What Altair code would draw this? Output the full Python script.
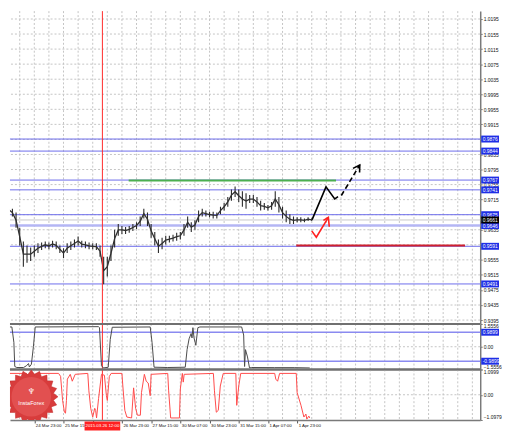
import altair as alt
import numpy as np
import pandas as pd

# ---------------- data ----------------
# x = hourly bar index counted from 24 Mar 07:00 (one entry every 2 bars)
bar_i = list(range(-2, 170, 2))
price_hi = [0.9691, 0.9694, 0.9696, 0.9691, 0.9681, 0.9640, 0.9604, 0.9593, 0.9588, 0.9593,
            0.9599, 0.9601, 0.9604, 0.9601, 0.9606, 0.9604, 0.9593, 0.9586, 0.9599, 0.9604,
            0.9609, 0.9617, 0.9606, 0.9604, 0.9601, 0.9599, 0.9599, 0.9593, 0.9563, 0.9563,
            0.9593, 0.9635, 0.9650, 0.9645, 0.9642, 0.9645, 0.9650, 0.9655, 0.9670, 0.9691,
            0.9681, 0.9650, 0.9629, 0.9609, 0.9614, 0.9619, 0.9619, 0.9622, 0.9627, 0.9629,
            0.9650, 0.9670, 0.9655, 0.9660, 0.9686, 0.9691, 0.9686, 0.9683, 0.9683, 0.9681,
            0.9696, 0.9706, 0.9722, 0.9742, 0.9750, 0.9742, 0.9737, 0.9732, 0.9727, 0.9727,
            0.9722, 0.9712, 0.9706, 0.9701, 0.9709, 0.9737, 0.9722, 0.9696, 0.9686, 0.9676,
            0.9670, 0.9668, 0.9668, 0.9665, 0.9668, 0.9665]
price_lo = [0.9676, 0.9678, 0.9681, 0.9670, 0.9640, 0.9593, 0.9537, 0.9547, 0.9552, 0.9563,
            0.9573, 0.9581, 0.9586, 0.9583, 0.9588, 0.9583, 0.9573, 0.9560, 0.9573, 0.9581,
            0.9588, 0.9593, 0.9588, 0.9586, 0.9583, 0.9583, 0.9581, 0.9563, 0.9490, 0.9511,
            0.9552, 0.9588, 0.9619, 0.9624, 0.9624, 0.9627, 0.9632, 0.9637, 0.9645, 0.9665,
            0.9645, 0.9614, 0.9593, 0.9573, 0.9583, 0.9596, 0.9601, 0.9604, 0.9606, 0.9609,
            0.9619, 0.9640, 0.9629, 0.9635, 0.9655, 0.9670, 0.9670, 0.9668, 0.9665, 0.9665,
            0.9676, 0.9686, 0.9696, 0.9712, 0.9722, 0.9709, 0.9696, 0.9691, 0.9706, 0.9706,
            0.9696, 0.9686, 0.9688, 0.9686, 0.9688, 0.9696, 0.9681, 0.9665, 0.9655, 0.9650,
            0.9650, 0.9655, 0.9655, 0.9655, 0.9658, 0.9658]

tick_vals = [0, 16, 32, 48, 64, 80, 96, 112, 128, 144, 160]
tick_text = ["24 Mar 07:00", "24 Mar 23:00", "25 Mar 15:00", "", "26 Mar 23:00",
             "27 Mar 15:00", "30 Mar 07:00", "30 Mar 23:00", "31 Mar 15:00",
             "1 Apr 07:00", "1 Apr 23:00"]
grid_x = list(range(8, 257, 8))

price_ticks = [1.0195, 1.0155, 1.0115, 1.0075, 1.0035, 0.9995, 0.9955, 0.9915, 0.9875,
               0.9835, 0.9795, 0.9755, 0.9715, 0.9675, 0.9635, 0.9595, 0.9555, 0.9515,
               0.9475, 0.9435, 0.9395]
level_blue = [0.9876, 0.9844, 0.9767, 0.9741, 0.9675, 0.9591, 0.9491]
level_light = [0.9646]
current_price = [0.9661]
box_levels = [0.9876, 0.9844, 0.9767, 0.9741, 0.9675, 0.9646, 0.9591, 0.9491]

green_seg = {"i": [67.7], "i2": [181.3], "p": [0.9766]}
red_seg = {"i": [159.5], "i2": [252.0], "p": [0.9593]}
marker_i = [53.3]
marker_text = ["2015.03.26 12:00"]

blk_solid_i = [168.2, 175.8, 180.6, 182.4]
blk_solid_p = [0.9662, 0.9749, 0.9717, 0.9723]
blk_dash_i = [184.2, 194.3]
blk_dash_p = [0.9726, 0.9807]
blk_head_i = [190.6, 194.3, 194.2]
blk_head_p = [0.9798, 0.9807, 0.9787]
red_arrow_i = [168.0, 170.5, 177.1]
red_arrow_p = [0.9632, 0.9615, 0.9668]
red_head_i = [174.4, 177.1, 177.6]
red_head_p = [0.9660, 0.9668, 0.9643]

ind1_i = [-1.6, 3.7, 4.8, 5.3, 6.4, 10.1, 11.7, 12.8, 13.3, 14.4, 15.5, 16.5, 51.2, 51.7,
          52.8, 53.9, 56.5, 57.6, 58.7, 79.5, 80.5, 81.6, 89.1, 98.7, 99.7, 100.8, 101.9,
          102.4, 102.9, 103.5, 104.5, 105.6, 106.7, 129.6, 130.7, 131.2, 131.7, 132.8,
          133.9, 134.9, 147.7, 158.4, 166.9]
ind1_v = [1.35, 1.35, 0.30, -1.35, -1.42, -1.42, -1.30, -1.15, -1.38, -1.20, 0.00, 1.35,
          1.37, 1.30, -1.30, -1.45, -1.40, 0.50, 1.33, 1.35, 0.30, -1.40, -1.42, -1.40,
          -0.20, 0.54, 0.90, 0.60, 1.30, 0.60, 0.10, 1.30, 1.35, 1.35, 0.80, -1.35, -0.20,
          -0.70, -1.45, -1.42, -1.43, -1.43, -1.45]
ind1_levels = [0.9899, -0.9899]
ind1_ticks = [1.5556, 0.0, -1.5556]

ind2_i = [-1.6, 11.7, 13.3, 14.4, 15.5, 17.1, 29.3, 30.4, 31.5, 32.5, 33.1, 33.6, 34.1,
          35.7, 36.8, 38.4, 45.3, 45.9, 46.9, 48.0, 49.1, 49.6, 50.1, 51.2, 52.8, 54.4,
          55.5, 56.0, 57.1, 58.1, 64.0, 64.5, 65.6, 66.7, 69.3, 70.4, 71.5, 72.5, 74.1,
          74.7, 76.3, 77.3, 78.4, 79.5, 80.0, 89.1, 89.6, 90.7, 95.5, 96.0, 97.1, 97.6,
          98.1, 114.1, 114.7, 115.7, 116.8, 117.9, 119.5, 126.4, 126.9, 128.0, 129.1,
          147.7, 148.3, 149.3, 150.4, 159.5, 160.0, 162.1, 163.7, 164.8, 165.3, 166.4, 166.9]
ind2_v = [0.93, 0.93, 0.76, 0.51, 0.85, 0.93, 0.93, 0.80, -0.25, -0.76, -0.80, -0.25, 0.68,
          0.89, 0.59, 0.89, 0.93, 0.17, -0.59, -0.97, -0.59, -0.68, -1.01, -0.17, 0.89, 0.85,
          -0.04, -0.25, 0.80, 0.93, 0.93, 0.38, -0.68, -0.97, -1.01, 0.30, -0.59, -0.89,
          -0.89, 0.09, 0.89, 0.59, 0.51, -0.04, 0.89, 0.93, 0.17, -1.01, -1.01, 0.25, 0.93,
          0.55, 0.89, 0.93, 0.17, -0.76, -0.68, 0.38, 0.93, 0.93, -0.46, 0.38, 0.93, 0.93,
          0.68, 0.59, 0.93, 0.93, 0.09, -0.46, -0.97, -0.84, -1.06, -0.93, -1.01]
ind2_ticks = [1.0999, 0.0, -1.0979]

# ---------------- layout / styles ----------------
W = 475
H_MAIN, H_I1, H_I2 = 316, 46, 51
FONT = "Liberation Sans"
GRID = "#c4c4c4"
BLUE_LINE = "#6c6cec"
BOX_BLUE = "#1f2fe6"
RED = "#ff2a2a"
BORDER = "#707070"

xs = alt.Scale(domain=[2.67, 260.3], nice=False, zero=False)
ys_main = alt.Scale(domain=[0.93847, 1.02159], nice=False, zero=False)
ys_i1 = alt.Scale(domain=[-1.5556, 1.5556], nice=False, zero=False)
ys_i2 = alt.Scale(domain=[-1.0979, 1.0999], nice=False, zero=False)

def X(field="i"):
    return alt.X(f"{field}:Q", scale=xs, axis=None)

def yaxis(values, expr=None, flush=False):
    kw = dict(orient="right", values=values, title=None, grid=False, domain=True,
              domainColor="#7a7a7a", domainWidth=1.5, tickSize=2, tickColor="#7a7a7a",
              labelFontSize=5, labelFont=FONT, labelColor="#111", labelPadding=1,
              labelFlush=flush, labelOverlap=False)
    if expr:
        kw["labelExpr"] = expr
    else:
        kw["format"] = ".4f"
    return alt.Axis(**kw)

dummy = pd.DataFrame({"k": [0]})

def vgrid():
    return alt.Chart(pd.DataFrame({"i": grid_x})).mark_rule(
        color=GRID, strokeDash=[2, 2], strokeWidth=1).encode(x=X())

def redline():
    return alt.Chart(pd.DataFrame({"i": marker_i})).mark_rule(
        color=RED, strokeWidth=1).encode(x=X())

def boxes(vals, yscale, color, labels=None):
    df = pd.DataFrame({"v": vals, "t": labels if labels else [f"{v:.4f}" for v in vals]})
    b = alt.Chart(df).mark_tick(orient="horizontal", size=18, thickness=7, color=color,
                                opacity=1).encode(
        y=alt.Y("v:Q", scale=yscale, axis=None), x=alt.value(W + 10))
    t = alt.Chart(df).mark_text(align="left", baseline="middle", fontSize=5, font=FONT,
                                color="white").encode(
        y=alt.Y("v:Q", scale=yscale, axis=None), x=alt.value(W + 2.5), text="t:N")
    return b + t

# ---------------- main panel ----------------
candles = pd.DataFrame({"i": bar_i, "hi": price_hi, "lo": price_lo})

hgrid = alt.Chart(pd.DataFrame({"p": price_ticks})).mark_rule(
    color=GRID, strokeDash=[2, 2], strokeWidth=1).encode(
    y=alt.Y("p:Q", scale=ys_main, axis=yaxis(price_ticks)))

lv = alt.Chart(pd.DataFrame({"p": level_blue})).mark_rule(
    color=BLUE_LINE, strokeWidth=1).encode(y=alt.Y("p:Q", scale=ys_main, axis=None))
lv_light = alt.Chart(pd.DataFrame({"p": level_light})).mark_rule(
    color="#b4b6f4", strokeWidth=2.5).encode(y=alt.Y("p:Q", scale=ys_main, axis=None))
cur = alt.Chart(pd.DataFrame({"p": current_price})).mark_rule(
    color="#c8c8c8", strokeWidth=1).encode(y=alt.Y("p:Q", scale=ys_main, axis=None))

green = alt.Chart(pd.DataFrame(green_seg)).mark_rule(color="#4caf50", strokeWidth=2).encode(
    x=X(), x2="i2:Q", y=alt.Y("p:Q", scale=ys_main, axis=None))
redseg = alt.Chart(pd.DataFrame(red_seg)).mark_rule(color="#d0202e", strokeWidth=2).encode(
    x=X(), x2="i2:Q", y=alt.Y("p:Q", scale=ys_main, axis=None))

c_rules = alt.Chart(candles).mark_rule(color="#2a2a2a", strokeWidth=1.1, clip=True).encode(
    x=X(), y=alt.Y("hi:Q", scale=ys_main, axis=None), y2="lo:Q")
c_line = alt.Chart(candles).transform_calculate(mid="(datum.hi + datum.lo) / 2").mark_line(
    color="#303030", strokeWidth=1.3, clip=True).encode(
    x=X(), y=alt.Y("mid:Q", scale=ys_main, axis=None))

def poly(ii, pp, color, dash=None, width=1.6):
    df = pd.DataFrame({"i": ii, "p": pp, "o": list(range(len(ii)))})
    kw = dict(color=color, strokeWidth=width)
    if dash:
        kw["strokeDash"] = dash
    return alt.Chart(df).mark_line(**kw).encode(
        x=X(), y=alt.Y("p:Q", scale=ys_main, axis=None), order="o:Q")

arrows = (poly(blk_solid_i, blk_solid_p, "black")
          + poly(blk_dash_i, blk_dash_p, "black", dash=[5, 3])
          + poly(blk_head_i, blk_head_p, "black")
          + poly(red_arrow_i, red_arrow_p, "#ff2020")
          + poly(red_head_i, red_head_p, "#ff2020"))

main = alt.layer(
    hgrid, vgrid(), cur, lv_light, lv, green, redseg, c_rules, c_line, redline(), arrows,
    boxes(box_levels, ys_main, BOX_BLUE),
    boxes(current_price, ys_main, "black"),
).resolve_axis(x="independent", y="independent").properties(width=W, height=H_MAIN)

# ---------------- indicator 1 ----------------
ind1_df = pd.DataFrame({"i": ind1_i, "v": ind1_v})
i1_zero = alt.Chart(pd.DataFrame({"v": [0.0]})).mark_rule(
    color=GRID, strokeDash=[2, 2]).encode(
    y=alt.Y("v:Q", scale=ys_i1,
            axis=yaxis(ind1_ticks, "datum.value == 0 ? '0.00' : format(datum.value, '.4f')",
                       flush=True)))
i1_lv = alt.Chart(pd.DataFrame({"v": ind1_levels})).mark_rule(
    color="#8a8af0", strokeWidth=1.5).encode(y=alt.Y("v:Q", scale=ys_i1, axis=None))
i1_line = alt.Chart(ind1_df).mark_line(color="#4a4a4a", strokeWidth=1, clip=True).encode(
    x=X(), y=alt.Y("v:Q", scale=ys_i1, axis=None))
i1_top = alt.Chart(dummy).mark_rule(color=BORDER, strokeWidth=2).encode(
    x=alt.value(0), x2=alt.value(W), y=alt.value(0))
i1_bot = alt.Chart(dummy).mark_rule(color=BORDER, strokeWidth=2).encode(
    x=alt.value(0), x2=alt.value(W), y=alt.value(H_I1))
ind1 = alt.layer(
    i1_zero, vgrid(), i1_lv, redline(), i1_line, i1_top, i1_bot,
    boxes(ind1_levels, ys_i1, BOX_BLUE),
).resolve_axis(x="independent", y="independent").properties(width=W, height=H_I1)

# ---------------- indicator 2 ----------------
ind2_df = pd.DataFrame({"i": ind2_i, "v": ind2_v})
label_expr = "[" + ",".join(f"'{t}'" for t in tick_text) + "][round(datum.value / 16)]"
i2_grid = alt.Chart(pd.DataFrame({"i": grid_x})).mark_rule(
    color=GRID, strokeDash=[2, 2], strokeWidth=1).encode(
    x=alt.X("i:Q", scale=xs,
            axis=alt.Axis(orient="bottom", values=tick_vals, labelExpr=label_expr, title=None,
                          grid=False, labelAlign="left", labelOffset=1, labelPadding=1,
                          tickSize=3, tickColor="#555", domainColor="#7a7a7a", domainWidth=1.5,
                          labelFontSize=4.4, labelFont=FONT, labelColor="#111",
                          labelOverlap=False, labelFlush=False)))
i2_zero = alt.Chart(pd.DataFrame({"v": [0.0]})).mark_rule(
    color=GRID, strokeDash=[2, 2]).encode(
    y=alt.Y("v:Q", scale=ys_i2,
            axis=yaxis(ind2_ticks, "datum.value == 0 ? '0.00' : format(datum.value, '.4f')",
                       flush=True)))
i2_line = alt.Chart(ind2_df).mark_line(color="#ff4a4a", strokeWidth=1, clip=True).encode(
    x=X(), y=alt.Y("v:Q", scale=ys_i2, axis=None))

# InstaForex badge (starburst), clipped to the panel like the original watermark
n_sp = 20
ang = np.linspace(0, 2 * np.pi, 2 * n_sp, endpoint=False) - np.pi / 2
rad = np.where(np.arange(2 * n_sp) % 2 == 0, 1.0, 0.84)
star_path = "M" + " L".join(f"{r * np.cos(a):.3f},{r * np.sin(a):.3f}" for r, a in zip(rad, ang)) + " Z"
badge = alt.Chart(dummy).mark_point(shape=star_path, size=2916, filled=True, fill="#d83c3c",
                                     stroke="#c22a2a", strokeWidth=0.5, opacity=1,
                                     clip=True).encode(
    x=alt.value(21.5), y=alt.value(27.5))
badge_in = alt.Chart(dummy).mark_point(shape="circle", size=1600, filled=True,
                                        fill="#e25050", opacity=1, clip=True).encode(
    x=alt.value(21.5), y=alt.value(27.5))
badge_txt = alt.Chart(pd.DataFrame({"t": ["InstaForex"]})).mark_text(
    fontSize=5.6, font=FONT, color="white", baseline="middle").encode(
    x=alt.value(21.5), y=alt.value(34), text="t:N")
badge_icon = alt.Chart(pd.DataFrame({"t": ["♆"]})).mark_text(
    fontSize=8, font="DejaVu Sans", color="white", baseline="middle").encode(
    x=alt.value(21.5), y=alt.value(22.5), text="t:N")

date_df = pd.DataFrame({"i": marker_i, "t": marker_text})
date_box = alt.Chart(date_df).mark_tick(orient="horizontal", size=36, thickness=9,
                                        color="#ff2020", opacity=1).encode(
    x=X(), y=alt.value(H_I2 + 6))
date_txt = alt.Chart(date_df).mark_text(fontSize=4.4, font=FONT, color="white",
                                        baseline="middle").encode(
    x=X(), y=alt.value(H_I2 + 6), text="t:N")

i2_top = alt.Chart(dummy).mark_rule(color=BORDER, strokeWidth=2).encode(
    x=alt.value(0), x2=alt.value(W), y=alt.value(0))

ind2 = alt.layer(
    i2_grid, i2_zero, redline(), i2_line, i2_top, badge, badge_in, badge_txt, badge_icon,
    date_box, date_txt,
).resolve_axis(x="independent", y="independent").properties(width=W, height=H_I2)

chart = alt.vconcat(main, ind1, ind2, spacing=0, bounds="flush").properties(
    padding=0, background="white"
).configure(font=FONT).configure_view(stroke=None)

chart.save("out.html", embed_options={"renderer": "svg", "actions": False})
